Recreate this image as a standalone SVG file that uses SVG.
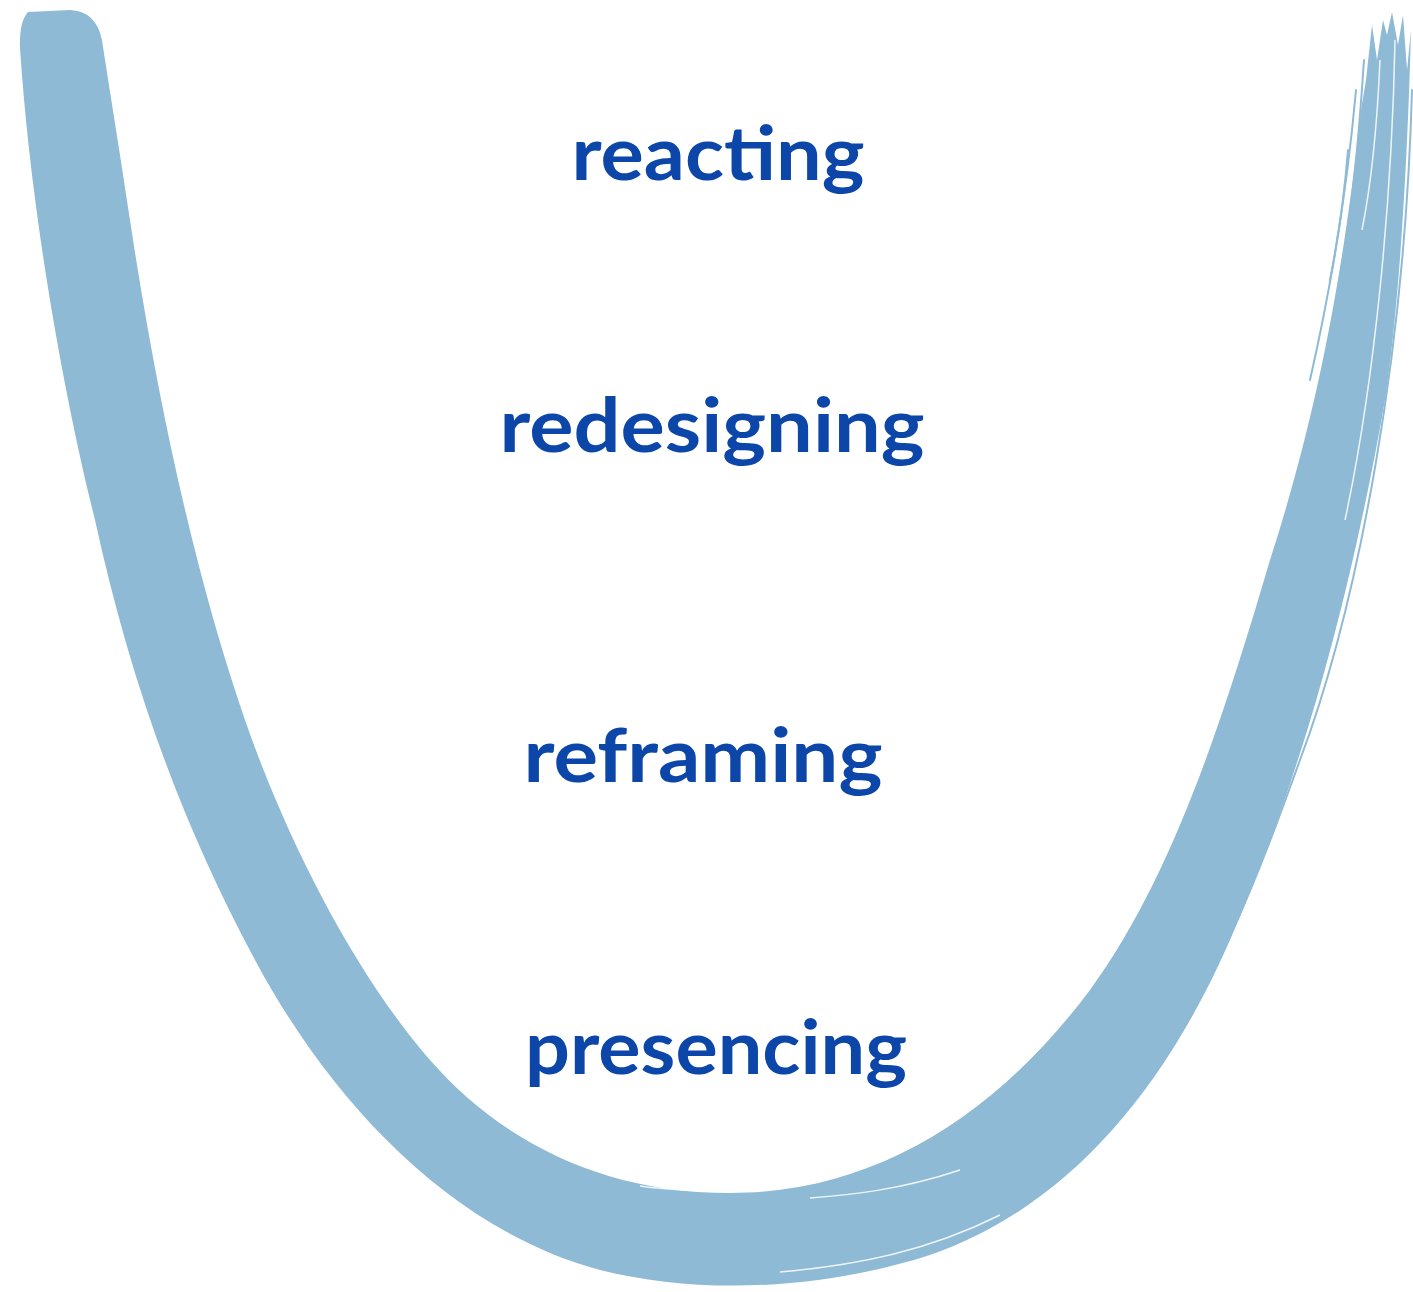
<svg xmlns="http://www.w3.org/2000/svg" width="1413" height="1292" viewBox="0 0 1413 1292">
<style>
.u{fill:#8fbad5}
.b{fill:none;stroke:#8fbad5;stroke-width:2;stroke-linecap:round}
.w{fill:none;stroke:#ffffff;stroke-width:1.5;opacity:.85}
.t{font-family:"Comic Sans MS","Lato","Noto Sans",sans-serif;font-weight:bold;font-size:74px;fill:#0b46a8;text-anchor:middle}
</style>
<rect width="1413" height="1292" fill="#ffffff"/>
<g id="u-curve">
<path class="u" d="M 28,12 Q 19,22 20,48 C 30,200 60,380 95,520 C 130,680 180,820 255,960 C 330,1100 450,1230 600,1270 C 700,1295 820,1290 930,1255 C 1060,1210 1160,1100 1230,940 C 1300,780 1350,600 1385,400 C 1400,300 1408,150 1411,30 L 1407,70 L 1403,15 L 1398,45 L 1392,12 L 1387,35 L 1383,20 L 1377,60 L 1372,25 L 1366,80 L 1361,110 C 1342,290 1312,430 1270,560 C 1220,730 1170,880 1090,990 C 1000,1110 880,1193 730,1193 C 600,1193 500,1140 430,1060 C 360,980 290,850 245,720 C 200,590 160,420 130,220 C 118,140 108,80 102,40 Q 96,11 70,10 Z"/>
<path class="b" d="M 1412,90 C 1405,350 1360,600 1300,760 C 1260,870 1220,980 1150,1070"/>
<path class="b" d="M 1356,90 C 1348,180 1335,270 1310,380"/>
<path class="b" d="M 1348,150 C 1344,200 1338,240 1330,280"/>
<path class="b" d="M 1364,60 C 1360,120 1356,170 1350,210"/>
<path class="b" d="M 1404,120 C 1400,300 1370,500 1330,640"/>
<path class="w" d="M 1395,40 C 1392,200 1375,380 1345,520"/>
<path class="w" d="M 1380,60 C 1377,130 1370,190 1362,230"/>
<path class="w" d="M 1300,820 C 1260,950 1200,1060 1100,1150"/>
<path class="w" d="M 1000,1215 C 930,1250 860,1265 780,1272"/>
<path class="w" d="M 960,1170 C 900,1190 850,1195 810,1198"/>
<path class="w" d="M 640,1186 C 660,1189 680,1190 700,1191"/>
</g>
<g id="reacting"><text class="t" x="718" y="180" textLength="293" lengthAdjust="spacingAndGlyphs">reacting</text></g>
<g id="redesigning"><text class="t" x="712" y="452" textLength="425" lengthAdjust="spacingAndGlyphs">redesigning</text></g>
<g id="reframing"><text class="t" x="703" y="782" textLength="359" lengthAdjust="spacingAndGlyphs">reframing</text></g>
<g id="presencing"><text class="t" x="716" y="1074" textLength="382" lengthAdjust="spacingAndGlyphs">presencing</text></g>
</svg>
